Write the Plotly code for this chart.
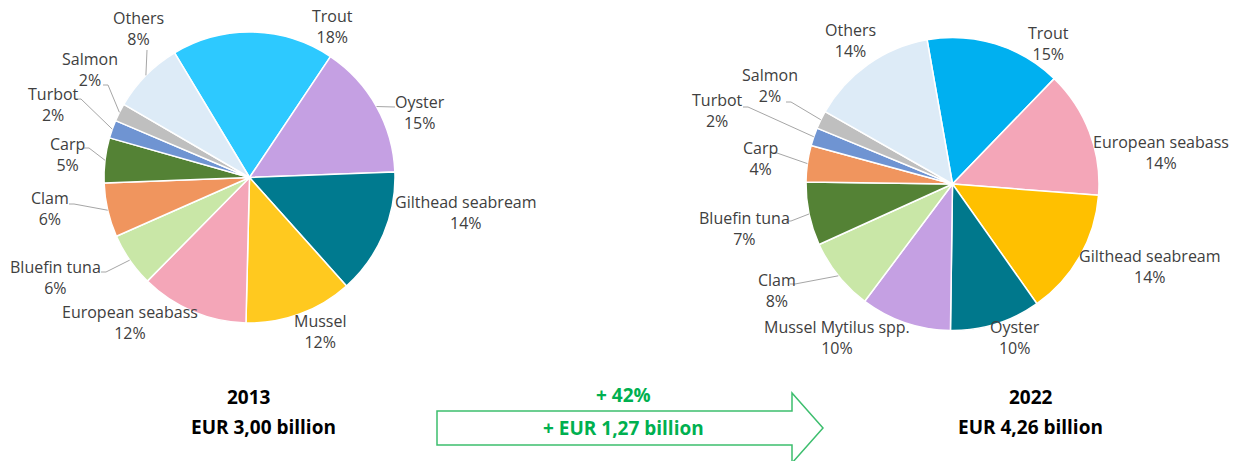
import math
import plotly.graph_objects as go

W, H = 1234, 461

# ---- data -------------------------------------------------------------
species_2013 = ["Trout", "Oyster", "Gilthead seabream", "Mussel", "European seabass",
                "Bluefin tuna", "Clam", "Carp", "Turbot", "Salmon", "Others"]
share_2013 = [18, 15, 14, 12, 12, 6, 6, 5, 2, 2, 8]

species_2022 = ["Trout", "European seabass", "Gilthead seabream", "Oyster",
                "Mussel Mytilus spp.", "Clam", "Bluefin tuna", "Carp", "Turbot",
                "Salmon", "Others"]
share_2022 = [15, 14, 14, 10, 10, 8, 7, 4, 2, 2, 14]

year_labels = ["2013", "2022"]
total_labels = ["EUR 3,00 billion", "EUR 4,26 billion"]
growth_pct = "+ 42%"
growth_abs = "+ EUR 1,27 billion"

# ---- styling ----------------------------------------------------------
colors_2013 = ["#2DC9FF", "#C5A0E3", "#007A8F", "#FFC91F", "#F4A6B8", "#C9E7A7",
               "#F0955E", "#548235", "#6F94D2", "#BFBFBF", "#DDEBF7"]
colors_2022 = ["#00B0F0", "#F4A6B8", "#FFC000", "#00788C", "#C5A0E3", "#C9E7A7",
               "#548235", "#F0955E", "#6F94D2", "#BFBFBF", "#DDEBF7"]

# pie geometry in pixels: centre x, centre y, radius, start angle
pie_2013 = dict(cx=249.5, cy=177.5, r=145.5, rot=-31)
pie_2022 = dict(cx=952.5, cy=184.0, r=146.5, rot=-10)

# label centres (pixels)
label_pos_2013 = [(332, 26), (420, 112), (466, 212), (320, 331), (130, 322),
                  (55, 277), (50, 208), (67, 154), (53, 105), (90, 69), (138, 28)]
label_pos_2022 = [(1048, 44), (1161, 152), (1150, 266), (1015, 337), (837, 337),
                  (777, 290), (745, 228), (760, 158), (717, 111), (770, 85), (850, 40)]

# leader-line start points next to the labels (None = no leader line)
leader_2013 = [None, (395, 107), None, None, None,
               (101, 272), (69, 204), (84, 148), (76, 99), (103, 85), (147, 50)]
leader_2022 = [None, None, None, None, None,
               (790, 284), (786, 221), (772, 153), (743, 107), (786, 102), None]

TEXT_GREY = "#404040"
LINE_GREY = "#A6A6A6"
GREEN = "#00B050"
FONT = "Open Sans"


def px(x):
    return x / W


def py(y):
    return 1 - y / H


def edge_point(values, idx, g):
    total = sum(values)
    before = sum(values[:idx])
    ang = math.radians(g["rot"] + 360 * (before + values[idx] / 2) / total)
    return g["cx"] + g["r"] * math.sin(ang), g["cy"] - g["r"] * math.cos(ang)


def text_at(x, y, text, font):
    return dict(x=px(x), y=py(y), xref="paper", yref="paper", showarrow=False,
                xanchor="center", yanchor="middle", align="center",
                text=text, font=font)


fig = go.Figure()

for names, vals, cols, g in [(species_2013, share_2013, colors_2013, pie_2013),
                             (species_2022, share_2022, colors_2022, pie_2022)]:
    fig.add_trace(go.Pie(
        labels=names, values=vals, sort=False, direction="clockwise",
        rotation=g["rot"], textinfo="none", hoverinfo="label+percent",
        marker=dict(colors=cols, line=dict(color="white", width=1.5)),
        domain=dict(x=[px(g["cx"] - g["r"]), px(g["cx"] + g["r"])],
                    y=[py(g["cy"] + g["r"]), py(g["cy"] - g["r"])]),
        showlegend=False,
    ))

annotations = []
shapes = []
label_font = dict(family=FONT, size=16, color=TEXT_GREY)

for names, vals, pos, leads, g in [
        (species_2013, share_2013, label_pos_2013, leader_2013, pie_2013),
        (species_2022, share_2022, label_pos_2022, leader_2022, pie_2022)]:
    for i, (name, v) in enumerate(zip(names, vals)):
        x, y = pos[i]
        annotations.append(text_at(x, y, f"{name}<br>{v}%", label_font))
        if leads[i] is not None:
            sx, sy = leads[i]
            ex, ey = edge_point(vals, i, g)
            if abs(sx - ex) < 8 or sx > ex:
                path = f"M {px(sx)},{py(sy)} L {px(ex)},{py(ey)}"
            else:
                path = (f"M {px(sx)},{py(sy)} L {px(sx + 5)},{py(sy)} "
                        f"L {px(ex)},{py(ey)}")
            shapes.append(dict(type="path", xref="paper", yref="paper", path=path,
                               line=dict(color=LINE_GREY, width=1)))

# totals under each pie
bold = dict(family=FONT, size=19, color="black")
annotations += [
    text_at(249, 397, f"<b>{year_labels[0]}</b>", bold),
    text_at(263, 427, f"<b>{total_labels[0]}</b>", bold),
    text_at(1031, 397, f"<b>{year_labels[1]}</b>", bold),
    text_at(1030, 427, f"<b>{total_labels[1]}</b>", bold),
]

# growth between the two years
green_bold = dict(family=FONT, size=19, color=GREEN)
annotations += [
    text_at(623, 395, f"<b>{growth_pct}</b>", green_bold),
    text_at(623, 428, f"<b>{growth_abs}</b>", green_bold),
]

# outlined growth arrow
arrow_pts = [(437, 411), (792, 411), (792, 393), (823, 428), (792, 463),
             (792, 445), (437, 445)]
arrow_path = "M " + " L ".join(f"{px(x)},{py(y)}" for x, y in arrow_pts) + " Z"
shapes.insert(0, dict(type="path", xref="paper", yref="paper", path=arrow_path,
                      line=dict(color="#3DBE6E", width=1.5), fillcolor="white",
                      layer="below"))

fig.update_layout(
    width=W, height=H, margin=dict(l=0, r=0, t=0, b=0),
    paper_bgcolor="white", plot_bgcolor="white",
    annotations=annotations, shapes=shapes,
)

fig.write_html("out.html")
